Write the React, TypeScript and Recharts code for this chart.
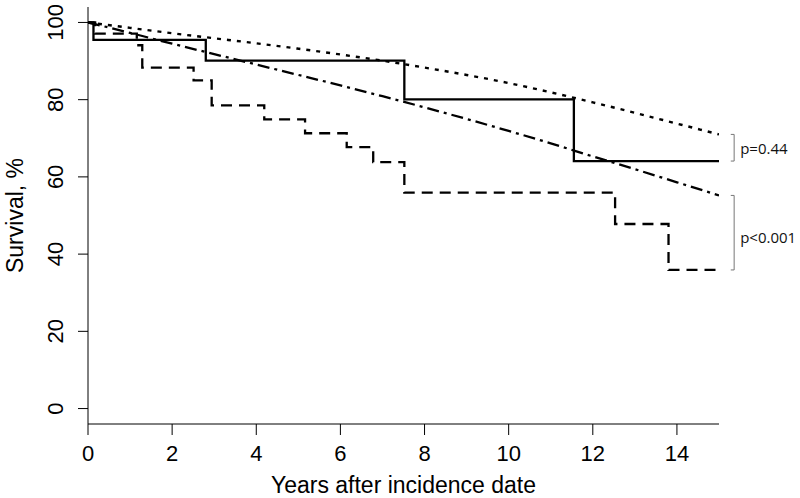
import {
  LineChart,
  Line,
  XAxis,
  YAxis,
  Label,
  ReferenceLine,
  ReferenceDot,
} from "recharts";

// Kaplan-Meier step curves (time in years, survival %)
const observedA = [
  { t: 0, v: 100 },
  { t: 0.13, v: 95.5 },
  { t: 2.8, v: 90.1 },
  { t: 7.52, v: 80.1 },
  { t: 11.55, v: 64.1 },
  { t: 15, v: 64.1 },
];

const observedB = [
  { t: 0, v: 100 },
  { t: 0.17, v: 97.1 },
  { t: 1.16, v: 94.1 },
  { t: 1.29, v: 88.3 },
  { t: 2.51, v: 85.0 },
  { t: 2.94, v: 78.5 },
  { t: 4.19, v: 74.9 },
  { t: 5.16, v: 71.3 },
  { t: 6.15, v: 67.7 },
  { t: 6.78, v: 63.8 },
  { t: 7.52, v: 55.9 },
  { t: 12.53, v: 47.8 },
  { t: 13.8, v: 35.9 },
  { t: 15, v: 35.9 },
];

// Expected survival curves
const expectedA = [
  { t: 0, v: 100 },
  { t: 1, v: 98.6 },
  { t: 2, v: 97.2 },
  { t: 3, v: 95.9 },
  { t: 4, v: 94.6 },
  { t: 5, v: 93.2 },
  { t: 6, v: 91.7 },
  { t: 7, v: 90.1 },
  { t: 8, v: 88.3 },
  { t: 9, v: 86.4 },
  { t: 10, v: 84.3 },
  { t: 11, v: 81.9 },
  { t: 12, v: 79.3 },
  { t: 13, v: 76.6 },
  { t: 14, v: 73.8 },
  { t: 15, v: 71.0 },
];

const expectedB = [
  { t: 0, v: 100 },
  { t: 1, v: 97.3 },
  { t: 2, v: 94.5 },
  { t: 3, v: 91.8 },
  { t: 4, v: 89.1 },
  { t: 5, v: 86.4 },
  { t: 6, v: 83.7 },
  { t: 7, v: 80.9 },
  { t: 8, v: 78.0 },
  { t: 9, v: 75.0 },
  { t: 10, v: 71.9 },
  { t: 11, v: 68.7 },
  { t: 12, v: 65.3 },
  { t: 13, v: 62.0 },
  { t: 14, v: 58.6 },
  { t: 15, v: 55.2 },
];

const xTicks = [0, 2, 4, 6, 8, 10, 12, 14];
const yTicks = [0, 20, 40, 60, 80, 100];

// p-value brackets: [top, bottom, label position]
const bracketTop = [71.0, 64.1, 67.4];
const bracketBottom = [55.2, 35.9, 44.3];
const pLabels = ["p=0.44", "p<0.001"];

const FONT = "'Liberation Sans', Arial, Helvetica, sans-serif";
const NOTE_FONT = "'Open Sans', 'Noto Sans', sans-serif";
const BRACKET_X = 15.36;
const BRACKET_TICK_X = 15.28;

function renderYTick(props: any) {
  const { x, y, payload } = props;
  return (
    <text
      transform={`translate(${x - 13}, ${y}) rotate(-90)`}
      textAnchor="middle"
      fill="#000"
      fontSize={22}
      fontFamily={FONT}
    >
      {payload.value}
    </text>
  );
}

function renderYTitle(props: any) {
  const vb = props.viewBox || { x: 0, y: 7, width: 88, height: 417 };
  const cy = vb.y + vb.height / 2;
  return (
    <text
      transform={`translate(${vb.x + 23}, ${cy}) rotate(-90)`}
      textAnchor="middle"
      fill="#000"
      fontSize={23}
      fontFamily={FONT}
    >
      Survival, %
    </text>
  );
}

function bracket(top: number, bottom: number, key: string) {
  const stroke = "#777";
  return [
    <ReferenceLine
      key={key + "v"}
      segment={[
        { x: BRACKET_X, y: top },
        { x: BRACKET_X, y: bottom },
      ]}
      stroke={stroke}
      strokeWidth={1}
      ifOverflow="visible"
    />,
    <ReferenceLine
      key={key + "t"}
      segment={[
        { x: BRACKET_TICK_X, y: top },
        { x: BRACKET_X, y: top },
      ]}
      stroke={stroke}
      strokeWidth={1}
      ifOverflow="visible"
    />,
    <ReferenceLine
      key={key + "b"}
      segment={[
        { x: BRACKET_TICK_X, y: bottom },
        { x: BRACKET_X, y: bottom },
      ]}
      stroke={stroke}
      strokeWidth={1}
      ifOverflow="visible"
    />,
  ];
}

export default function App() {
  const brackets = [bracketTop, bracketBottom];
  return (
    <div style={{ position: "absolute", left: 0, top: 0, background: "#fff" }}>
      <LineChart
        width={800}
        height={498}
        margin={{ top: 7, right: 81, bottom: 0, left: 0 }}
      >
        <XAxis
          dataKey="t"
          type="number"
          domain={[0, 15]}
          ticks={xTicks}
          allowDataOverflow
          height={74}
          stroke="#000"
          tickSize={11}
          tickMargin={10}
          tick={{ fill: "#000", fontSize: 22, fontFamily: FONT }}
          label={{
            value: "Years after incidence date",
            position: "insideBottom",
            offset: 5,
            fill: "#000",
            fontSize: 23,
            fontFamily: FONT,
          }}
        />
        <XAxis
          xAxisId="top"
          orientation="top"
          type="number"
          domain={[0, 15]}
          height={0}
          tick={false}
          tickLine={false}
          stroke="#000"
        />
        <YAxis
          type="number"
          domain={[-4, 104]}
          ticks={yTicks}
          allowDataOverflow
          width={88}
          stroke="#000"
          tickSize={10}
          tickMargin={2}
          tick={renderYTick}
        >
          <Label content={renderYTitle} />
        </YAxis>
        <YAxis
          yAxisId="right"
          orientation="right"
          type="number"
          domain={[-4, 104]}
          width={0}
          tick={false}
          tickLine={false}
          stroke="#000"
        />

        <Line
          data={expectedA}
          dataKey="v"
          type="monotone"
          stroke="#000"
          strokeWidth={2.4}
          strokeDasharray="4 6"
          dot={false}
          activeDot={false}
          isAnimationActive={false}
        />
        <Line
          data={expectedB}
          dataKey="v"
          type="monotone"
          stroke="#000"
          strokeWidth={2.3}
          strokeDasharray="12 5 3 5"
          dot={false}
          activeDot={false}
          isAnimationActive={false}
        />
        <Line
          data={observedB}
          dataKey="v"
          type="stepAfter"
          stroke="#000"
          strokeWidth={2.3}
          strokeDasharray="11 7"
          dot={false}
          activeDot={false}
          isAnimationActive={false}
        />
        <Line
          data={observedA}
          dataKey="v"
          type="stepAfter"
          stroke="#000"
          strokeWidth={2.3}
          dot={false}
          activeDot={false}
          isAnimationActive={false}
        />

        {brackets.map((b, i) => bracket(b[0], b[1], "br" + i))}
        {brackets.map((b, i) => (
          <ReferenceDot
            key={"pl" + i}
            x={BRACKET_X}
            y={b[2]}
            r={0}
            fill="none"
            stroke="none"
            ifOverflow="visible"
            label={{
              value: pLabels[i],
              position: "right",
              offset: 6,
              fill: "#111",
              fontSize: 15,
              fontFamily: NOTE_FONT,
            }}
          />
        ))}
      </LineChart>
    </div>
  );
}
